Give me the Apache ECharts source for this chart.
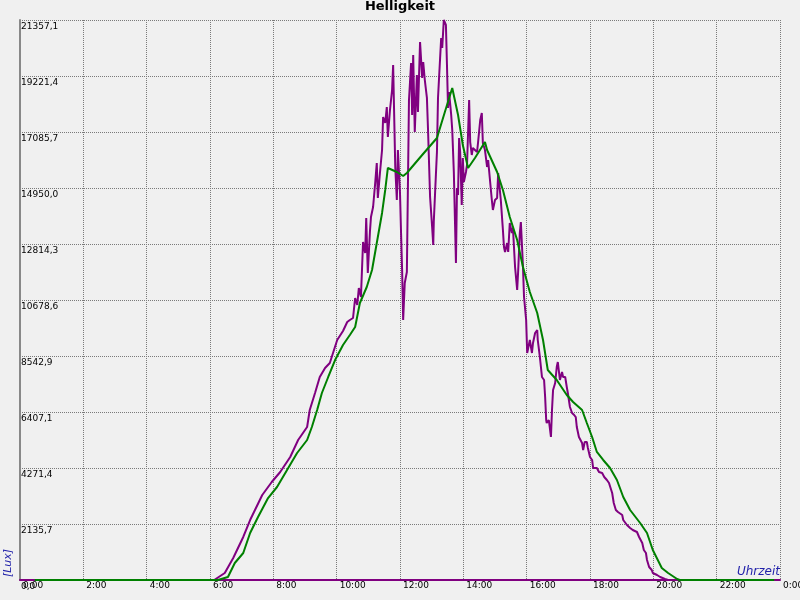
<!DOCTYPE html>
<html>
<head>
<meta charset="utf-8">
<script src="https://cdn.jsdelivr.net/npm/echarts@6/dist/echarts.min.js"></script>
<style>
html,body{margin:0;padding:0;background:#f0f0f0;}
#chart{width:800px;height:600px;}
</style>
</head>
<body>
<div id="chart"></div>
<script>
// Time in minutes after midnight, brightness in Lux
const purpleMinutes = [0,368,371,388,404,423,436,459,477,493,512,527,544,549,559,568,578,587,601,612,620,625,631,635,639,642,646,650,654,656,659,663,665,669,673,676,678,682,686,688,692,695,697,701,705,707,711,714,716,720,722,724,726,729,733,737,741,743,745,748,752,754,758,762,764,767,771,773,777,781,783,784,788,790,792,796,798,800,803,807,809,811,813,817,819,822,826,828,830,832,834,837,839,841,845,847,851,853,856,858,866,868,872,875,877,881,885,887,891,894,896,900,904,906,909,911,915,917,919,923,925,928,932,934,938,942,944,947,949,953,955,959,961,966,970,972,976,980,981,985,989,993,995,997,998,1002,1006,1008,1010,1014,1017,1019,1023,1027,1029,1033,1036,1038,1042,1046,1050,1053,1055,1059,1065,1067,1070,1074,1076,1080,1084,1086,1093,1097,1103,1107,1112,1116,1122,1125,1129,1133,1141,1143,1146,1150,1156,1161,1169,1173,1179,1182,1186,1188,1192,1197,1199,1207,1213,1222,1228,1440];
const purpleLux = [0,0,76,267,839,1640,2288,3242,3738,4119,4691,5339,5835,6483,7132,7742,8085,8276,9153,9496,9840,9916,9992,10755,10488,11136,10793,12891,12471,13806,11708,13272,13844,14225,15141,15904,14569,15522,16399,17658,17429,18039,16895,17925,18688,19641,15751,14492,16399,14759,13234,11823,9916,11327,11747,18306,19717,17734,20022,17086,19260,17849,20518,19145,19755,19069,18383,17238,14607,13425,12776,13653,15446,16323,18383,19908,20671,20289,21357,21167,19641,18001,18611,17734,17162,15560,12090,14950,14683,16857,16323,14302,16094,15179,15560,15827,18306,16704,16209,16476,16323,16704,17543,17810,16666,16399,15751,16018,15141,14492,14111,14492,14569,15522,15560,14492,13348,12700,12509,12852,12509,13615,13234,13425,11937,11060,11823,13234,13653,11937,10793,9916,8657,9153,8657,9039,9420,9535,9153,8505,7742,7628,6979,6102,5988,6102,5454,6483,7246,7513,8123,8314,7628,7933,7742,7742,7361,7132,6598,6369,6293,6216,5835,5454,5225,4958,5263,5263,5034,4691,4577,4271,4271,4119,4081,3928,3814,3699,3318,2937,2670,2593,2479,2288,2212,2098,1983,1907,1831,1640,1411,1144,1030,763,496,381,267,191,114,38,0,0];

const greenMinutes = [28,375,394,407,423,436,451,470,487,506,525,544,553,563,572,584,597,612,625,635,644,657,667,676,686,692,697,714,726,733,762,790,805,819,830,839,849,862,881,885,904,915,928,942,953,966,980,991,1000,1017,1036,1048,1065,1074,1084,1093,1105,1118,1131,1143,1156,1175,1188,1199,1216,1228,1245,1250,1429];
const greenLux = [0,0,114,648,1030,1792,2403,3127,3547,4195,4844,5339,5835,6483,7132,7742,8390,8962,9344,9649,10564,11174,11823,12852,13997,14874,15713,15560,15408,15522,16209,16857,17849,18764,17734,16590,15713,16094,16704,16399,15560,14874,13844,12967,11937,10984,10183,9153,8009,7628,7056,6789,6483,5988,5454,4882,4577,4271,3814,3165,2670,2174,1792,1144,458,267,38,0,0];

const xTickLabels = ['0:00','2:00','4:00','6:00','8:00','10:00','12:00','14:00','16:00','18:00','20:00','22:00','0:00'];
const yTickLabels = ['0,0','2135,7','4271,4','6407,1','8542,9','10678,6','12814,3','14950,0','17085,7','19221,4','21357,1'];

const titleText = 'Helligkeit';
const yName = '[Lux]';
const xName = 'Uhrzeit';

const yStep = 2135.714;
const yMax = yStep * 10;

const purpleData = purpleMinutes.map((m, i) => [m, purpleLux[i]]);
const greenData = greenMinutes.map((m, i) => [m, greenLux[i]]);

const chart = echarts.init(document.getElementById('chart'));
const gridColor = '#7a7a7a';
const font = 'DejaVu Sans';
chart.setOption({
  backgroundColor: '#f0f0f0',
  animation: false,
  title: {
    text: titleText,
    left: 'center',
    top: 0,
    padding: 0,
    textStyle: {fontFamily: font, fontSize: 13, fontWeight: 'bold', color: '#000'}
  },
  grid: {left: 20, right: 20, top: 20, bottom: 20, containLabel: false, outerBoundsMode: 'none'},
  xAxis: {
    type: 'value',
    min: 0, max: 1440, interval: 120,
    axisLine: {show: true, onZero: false, lineStyle: {color: '#800080', width: 2}},
    axisTick: {show: false},
    splitLine: {show: true, lineStyle: {color: gridColor, width: 1, type: [1, 1]}},
    axisLabel: {
      formatter: (v) => xTickLabels[Math.round(v / 120)],
      align: 'left', margin: 1, padding: [0, 0, 0, 3],
      hideOverlap: false,
      fontFamily: font, fontSize: 9, color: '#000'
    }
  },
  yAxis: {
    type: 'value',
    min: 0, max: yMax, interval: yStep,
    axisLine: {show: true, onZero: false, lineStyle: {color: '#888888', width: 2}},
    axisTick: {show: false},
    splitLine: {show: true, lineStyle: {color: gridColor, width: 1, type: [1, 1]}},
    axisLabel: {
      inside: true,
      formatter: (v) => yTickLabels[Math.round(v / yStep)],
      align: 'left', verticalAlign: 'top', margin: 1, padding: [2, 0, 0, 0],
      fontFamily: font, fontSize: 9, color: '#000'
    }
  },
  series: [
    {
      type: 'line', data: purpleData, showSymbol: false, symbol: 'none',
      lineStyle: {color: '#800080', width: 2}, itemStyle: {color: '#800080'},
      sampling: null, z: 3
    },
    {
      type: 'line', data: greenData, showSymbol: false, symbol: 'none',
      lineStyle: {color: '#008000', width: 2}, itemStyle: {color: '#008000'},
      z: 4
    }
  ],
  graphic: [
    {
      type: 'text', x: 8, y: 563, rotation: Math.PI / 2,
      style: {text: yName, fill: '#2222aa', font: 'italic 11px "DejaVu Sans"', align: 'center', verticalAlign: 'middle'}
    },
    {
      type: 'text', x: 780, y: 572,
      style: {text: xName, fill: '#2222aa', font: 'italic 12px "DejaVu Sans"', align: 'right', verticalAlign: 'middle'}
    }
  ]
});
</script>
</body>
</html>
